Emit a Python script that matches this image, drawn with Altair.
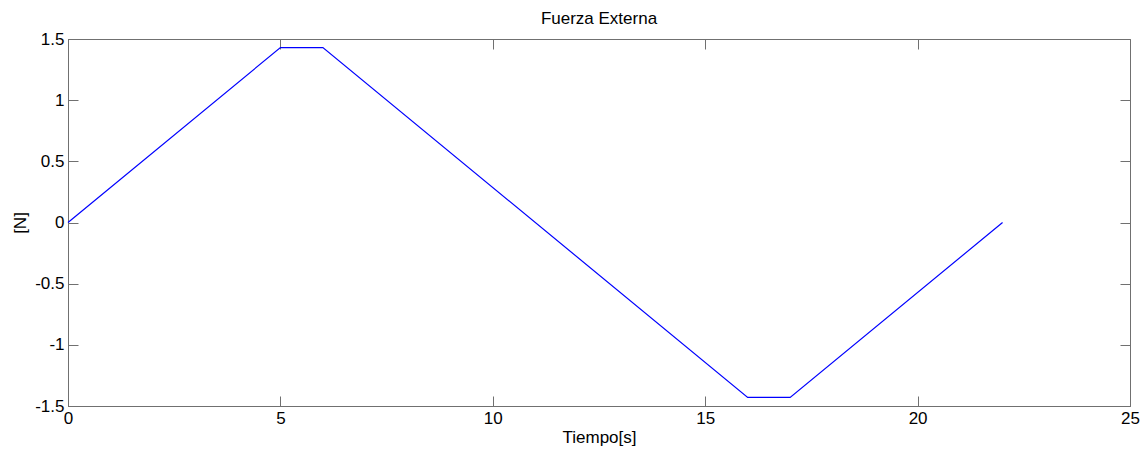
import altair as alt
import pandas as pd

# Fuerza externa aplicada (trapecio positivo y negativo)
tiempo = [0, 5, 6, 16, 17, 22]
fuerza = [0, 1.43, 1.43, -1.43, -1.43, 0]

x_ticks = [0, 5, 10, 15, 20, 25]
y_ticks = [-1.5, -1, -0.5, 0, 0.5, 1, 1.5]

df = pd.DataFrame({"t": tiempo, "f": fuerza})

AXIS_COLOR = "#707070"
FONT = "Liberation Sans"
FS = 17
TICK_LEN = 10

xscale = alt.Scale(domain=[0, 25], nice=False, zero=False)
yscale = alt.Scale(domain=[-1.5, 1.5], nice=False, zero=False)

base = alt.Chart(df)

# curve plus labelled bottom/left axes
curve = base.mark_line(color="#0000ff", strokeWidth=1.2).encode(
    x=alt.X("t:Q", scale=xscale, axis=alt.Axis(
        orient="bottom", values=x_ticks, title="Tiempo[s]", ticks=False, tickSize=0,
        domainColor=AXIS_COLOR, domainWidth=1, grid=False,
        labelExpr="datum.value + ''", labelFont=FONT, labelFontSize=FS,
        labelColor="#000000", labelPadding=4, labelFlush=False,
        titleFont=FONT, titleFontSize=FS, titleFontWeight="normal",
        titleColor="#000000", titlePadding=3)),
    y=alt.Y("f:Q", scale=yscale, axis=alt.Axis(
        orient="left", values=y_ticks, title="[N]", ticks=False, tickSize=0,
        domainColor=AXIS_COLOR, domainWidth=1, grid=False,
        labelExpr="datum.value + ''", labelFont=FONT, labelFontSize=FS,
        labelColor="#000000", labelPadding=4, labelFlush=False,
        titleFont=FONT, titleFontSize=FS, titleFontWeight="normal",
        titleColor="#000000", titlePadding=5)),
)


def inner_ticks(xo, yo):
    """Invisible layer carrying inward-pointing tick marks on the given sides."""
    return base.mark_line(opacity=0).encode(
        x=alt.X("t:Q", scale=xscale, axis=alt.Axis(
            orient=xo, values=x_ticks, title=None, labels=False, domain=False,
            grid=False, ticks=True, tickSize=TICK_LEN, tickColor=AXIS_COLOR,
            tickWidth=1, offset=-TICK_LEN)),
        y=alt.Y("f:Q", scale=yscale, axis=alt.Axis(
            orient=yo, values=y_ticks, title=None, labels=False, domain=False,
            grid=False, ticks=True, tickSize=TICK_LEN, tickColor=AXIS_COLOR,
            tickWidth=1, offset=-TICK_LEN)),
    )


chart = alt.layer(
    inner_ticks("bottom", "left"),
    inner_ticks("top", "right"),
    curve,
).resolve_axis(
    x="independent", y="independent"
).properties(
    width=1062,
    height=367,
    autosize=alt.AutoSizeParams(type="none"),
    padding={"left": 68, "top": 39, "right": 18, "bottom": 44},
    title=alt.TitleParams(
        "Fuerza Externa", anchor="middle", font=FONT, fontSize=17,
        fontWeight="normal", color="#000000", baseline="alphabetic",
        offset=14, dy=25),
    background="white",
).configure_view(stroke=AXIS_COLOR, strokeWidth=1)

chart.save("out.html", embed_options={"renderer": "svg", "actions": False})
